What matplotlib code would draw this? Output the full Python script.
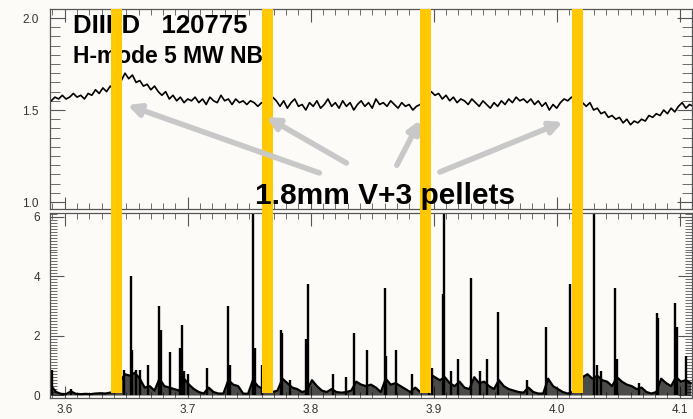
import numpy as np
import matplotlib.pyplot as plt
from matplotlib.ticker import MultipleLocator, FormatStrFormatter

plt.rcParams['font.family'] = ['Liberation Sans', 'DejaVu Sans']

# pellet injection times (s)
pellet_t = [3.642, 3.765, 3.893, 4.017]
pellet_width = 0.009

# line averaged density (top panel), one sample every 3 ms from 3.589 s
dens_t0 = 3.589
dens_dt = 0.003
dens = [
    1.55, 1.57, 1.56, 1.58, 1.56, 1.57, 1.59, 1.57, 1.58, 1.56,
    1.59, 1.58, 1.61, 1.59, 1.62, 1.60, 1.63, 1.61, 1.64, 1.66,
    1.70, 1.67, 1.69, 1.65, 1.66, 1.63, 1.64, 1.61, 1.63, 1.60,
    1.58, 1.60, 1.56, 1.58, 1.55, 1.57, 1.54, 1.56, 1.55, 1.57,
    1.54, 1.56, 1.53, 1.57, 1.55, 1.54, 1.58, 1.55, 1.56, 1.53,
    1.56, 1.54, 1.55, 1.53, 1.55, 1.54, 1.52, 1.54, 1.53, 1.55,
    1.57, 1.55, 1.52, 1.55, 1.51, 1.54, 1.56, 1.52, 1.53, 1.50,
    1.54, 1.52, 1.55, 1.51, 1.53, 1.56, 1.52, 1.54, 1.51, 1.55,
    1.52, 1.54, 1.50, 1.53, 1.55, 1.52, 1.54, 1.51, 1.56, 1.53,
    1.54, 1.52, 1.55, 1.53, 1.51, 1.54, 1.52, 1.53, 1.50, 1.52,
    1.53, 1.55, 1.57, 1.60, 1.58, 1.59, 1.56, 1.58, 1.55, 1.57,
    1.54, 1.56, 1.55, 1.53, 1.56, 1.54, 1.52, 1.55, 1.53, 1.51,
    1.54, 1.52, 1.55, 1.53, 1.56, 1.54, 1.57, 1.55, 1.56, 1.54,
    1.56, 1.53, 1.55, 1.52, 1.54, 1.50, 1.53, 1.51, 1.54, 1.56,
    1.55, 1.57, 1.55, 1.56, 1.54, 1.52, 1.54, 1.50, 1.51, 1.48,
    1.49, 1.46, 1.47, 1.45, 1.46, 1.43, 1.45, 1.42, 1.44, 1.43,
    1.45, 1.44, 1.47, 1.46, 1.48, 1.47, 1.50, 1.48, 1.51, 1.49,
    1.52, 1.54, 1.51, 1.53, 1.52,
]

# D-alpha background level (bottom panel), one sample every 4 ms from 3.589 s
da_t0 = 3.589
da_dt = 0.004
da_base = [
    0.30, 0.10, 0.04, 0.03, 0.12, 0.04, 0.03, 0.04, 0.03, 0.05,
    0.06, 0.05, 0.08, 0.10, 0.45, 0.70, 0.65, 0.75, 0.55, 0.25,
    0.30, 0.15, 0.55, 0.30, 0.25, 0.20, 0.15, 0.55, 0.35, 0.20,
    0.10, 0.05, 0.25, 0.10, 0.05, 0.05, 0.50, 0.35, 0.30, 0.05,
    0.04, 0.50, 0.30, 0.20, 0.15, 0.10, 0.15, 0.55, 0.40, 0.25,
    0.20, 0.10, 0.15, 0.50, 0.30, 0.15, 0.10, 0.20, 0.10, 0.08,
    0.10, 0.15, 0.45, 0.35, 0.30, 0.35, 0.25, 0.10, 0.55, 0.35,
    0.40, 0.30, 0.20, 0.10, 0.25, 0.10, 0.30, 0.70, 0.60, 0.50,
    0.60, 0.40, 0.30, 0.45, 0.25, 0.20, 0.60, 0.40, 0.45, 0.30,
    0.20, 0.50, 0.30, 0.20, 0.15, 0.10, 0.08, 0.25, 0.10, 0.05,
    0.05, 0.55, 0.30, 0.20, 0.10, 0.05, 0.10, 0.15, 0.60, 0.70,
    0.55, 0.65, 0.50, 0.45, 0.30, 0.60, 0.45, 0.35, 0.30, 0.20,
    0.25, 0.10, 0.05, 0.10, 0.55, 0.40, 0.30, 0.60, 0.45, 0.50,
    0.40,
]

# ELM spikes on D-alpha: time (s) and peak height
elm_t = [3.590, 3.605, 3.648, 3.6537, 3.655, 3.658, 3.661, 3.668, 3.6764, 3.678,
         3.6854, 3.694, 3.6951, 3.697, 3.700, 3.716, 3.7325, 3.734, 3.7528, 3.7545,
         3.760, 3.7756, 3.777, 3.783, 3.796, 3.7976, 3.818, 3.829, 3.835, 3.8455,
         3.860, 3.861, 3.869, 3.882, 3.896, 3.899, 3.9073, 3.908, 3.914, 3.920,
         3.930, 3.938, 3.943, 3.952, 3.976, 3.991, 4.0105, 4.030, 4.033, 4.036,
         4.0471, 4.049, 4.067, 4.0813, 4.0825, 4.096, 4.0975, 4.105]
elm_h = [0.85, 0.2, 0.85, 4.0, 1.5, 0.85, 0.85, 1.0, 3.0, 2.2,
         1.45, 1.6, 2.35, 0.8, 0.7, 0.9, 3.0, 1.0, 6.2, 1.6,
         1.0, 2.2, 2.1, 0.5, 1.9, 3.75, 0.7, 0.6, 2.1, 1.5,
         3.6, 1.3, 1.5, 0.7, 1.0, 0.9, 3.4, 6.2, 0.8, 1.2,
         3.95, 0.8, 1.2, 2.8, 0.5, 2.3, 3.75, 6.2, 1.0, 0.8,
         3.6, 1.2, 0.4, 2.75, 2.6, 3.1, 2.3, 1.3]

# annotation arrows (top panel data coords)
arrow_tip_t = [3.651, 3.764, 3.889, 4.005]
arrow_tip_y = [1.527, 1.462, 1.446, 1.435]
arrow_tail_t = [3.807, 3.829, 3.870, 3.905]
arrow_tail_y = [1.158, 1.212, 1.200, 1.163]

bg = '#fdfbf8'
yellow = '#ffc800'
W, H = 693, 419

fig = plt.figure(figsize=(W / 100, H / 100), dpi=100, facecolor=bg)
ax_d = fig.add_axes([50 / W, 1 - 398 / H, 642 / W, 185 / H], facecolor=bg)
ax_n = fig.add_axes([50 / W, 1 - 209 / H, 642 / W, 200 / H], facecolor=bg)

dens_time = dens_t0 + dens_dt * np.arange(len(dens))
da_time = da_t0 + da_dt * np.arange(len(da_base))

ax_n.plot(dens_time, dens, color='k', lw=1.2, zorder=2)
ax_d.fill_between(da_time, 0, da_base, color='k', alpha=0.7, lw=0, zorder=2)
ax_d.plot(da_time, da_base, color='k', lw=1.6, zorder=2)
ax_d.vlines(elm_t, 0, elm_h, color='k', lw=1.7, zorder=2)

for ax in (ax_n, ax_d):
    ax.set_xlim(3.588, 4.110)
    ax.xaxis.set_major_locator(MultipleLocator(0.1))
    ax.xaxis.set_minor_locator(MultipleLocator(0.01))
    ax.tick_params(which='both', direction='in', top=True, right=True,
                   colors='#555555', labelcolor='#333333', labelsize=8.5)
    ax.tick_params(which='major', length=9, width=0.8)
    ax.tick_params(which='minor', length=4, width=0.6)
    for s in ax.spines.values():
        s.set_color('#555555')
        s.set_linewidth(0.9)

ax_n.set_ylim(0.962, 2.049)
ax_n.yaxis.set_major_locator(MultipleLocator(0.5))
ax_n.yaxis.set_minor_locator(MultipleLocator(0.05))
ax_n.yaxis.set_major_formatter(FormatStrFormatter('%.1f'))
ax_n.tick_params(axis='y', which='major', length=11, pad=8)
ax_n.tick_params(axis='y', which='minor', length=7)
ax_n.tick_params(labelbottom=False)

ax_d.set_ylim(-0.1, 6.13)
ax_d.yaxis.set_major_locator(MultipleLocator(2))
ax_d.yaxis.set_minor_locator(MultipleLocator(0.1))
ax_d.yaxis.set_major_formatter(FormatStrFormatter('%d'))
ax_d.xaxis.set_major_formatter(FormatStrFormatter('%.1f'))
ax_d.tick_params(axis='y', which='major', length=10, pad=7)
ax_d.tick_params(axis='y', which='minor', length=5)
ax_d.tick_params(axis='x', pad=4)

# pellet markers
for t in pellet_t:
    ax_d.axvspan(t - pellet_width / 2, t + pellet_width / 2, ymin=0.027, ymax=1,
                 color=yellow, lw=0, zorder=3)
    ax_n.axvspan(t - pellet_width / 2, t + pellet_width / 2, ymin=-0.03, ymax=1,
                 color=yellow, lw=0, zorder=3, clip_on=False)

ax_n.text(0.036, 0.88, 'DIII-D   120775', transform=ax_n.transAxes,
          fontsize=18.5, fontweight='bold', va='baseline', zorder=2.5)
ax_n.text(0.036, 0.73, 'H-mode 5 MW NBI', transform=ax_n.transAxes,
          fontsize=16.5, fontweight='bold', va='baseline', zorder=2.5)

for tt, ty, st, sy in zip(arrow_tip_t, arrow_tip_y, arrow_tail_t, arrow_tail_y):
    ax_n.annotate('', xy=(tt, ty), xytext=(st, sy), annotation_clip=False,
                  arrowprops=dict(arrowstyle='-|>', color='#c8c8c8', lw=4,
                                  mutation_scale=18, shrinkA=0, shrinkB=0),
                  zorder=4)

fig.text(255 / W, 1 - 204 / H, '1.8mm V+3 pellets', fontsize=21.5,
         fontweight='bold', va='baseline', ha='left', zorder=6)

fig.savefig('out.png', dpi=100, facecolor=bg)
